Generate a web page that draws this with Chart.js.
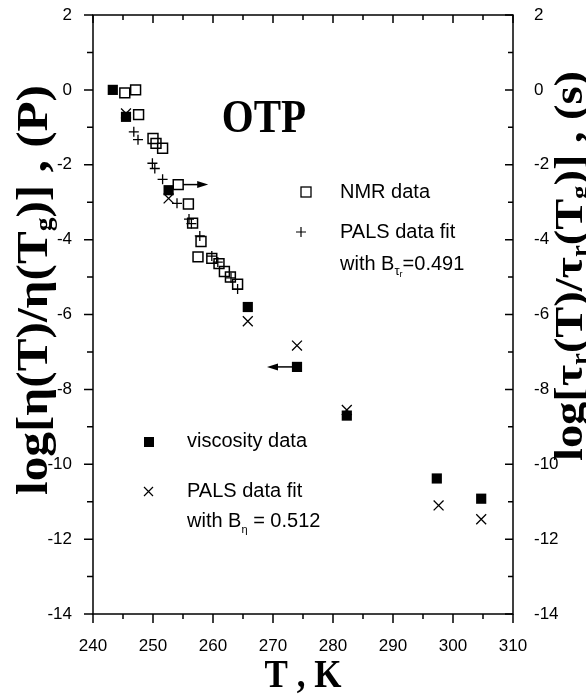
<!DOCTYPE html>
<html>
<head>
<meta charset="utf-8">
<script src="https://cdn.jsdelivr.net/npm/chart.js@4"></script>
<style>
  html, body { margin: 0; padding: 0; background: #fff; }
  #wrap { width: 586px; height: 694px; position: relative; }
</style>
</head>
<body>
<div id="wrap"><canvas id="c" width="586" height="694"></canvas></div>
<script>
// ---- data (T in K, log values) ----
const viscosityT   = [243.3, 245.5, 252.6, 265.8, 274.0, 282.3, 297.3, 304.7];
const viscosityLog = [0.0, -0.72, -2.68, -5.8, -7.4, -8.7, -10.38, -10.92];

const palsEtaT   = [245.5, 252.6, 265.8, 274.0, 282.3, 297.6, 304.7];
const palsEtaLog = [-0.63, -2.9, -6.18, -6.83, -8.55, -11.1, -11.47];

const nmrT   = [245.3, 247.1, 247.6, 250.0, 250.5, 251.6, 254.2, 255.9, 256.6, 258.0, 257.5, 259.8, 261.0, 261.9, 262.9, 264.1];
const nmrLog = [-0.08, 0.0, -0.66, -1.3, -1.43, -1.56, -2.53, -3.05, -3.56, -4.05, -4.46, -4.5, -4.64, -4.85, -5.0, -5.19];

const palsTauT   = [246.8, 247.5, 249.9, 250.3, 251.6, 254.0, 256.0, 256.4, 257.8, 259.8, 260.8, 263.0, 264.1];
const palsTauLog = [-1.12, -1.33, -1.96, -2.1, -2.39, -3.03, -3.45, -3.57, -3.9, -4.44, -4.6, -5.02, -5.32];

// arrows: [fromT, toT, logValue]
const arrowRight = [255.0, 259.2, -2.53];
const arrowLeft  = [273.2, 269.0, -7.4];

const xTickLabels = [240, 250, 260, 270, 280, 290, 300, 310];
const yTickLabels = [2, 0, -2, -4, -6, -8, -10, -12, -14];

function pts(xs, ys) { return xs.map((x, i) => ({ x: x, y: ys[i] })); }

const SANS = '"Liberation Sans", Arial, sans-serif';
const SERIF = '"Liberation Serif", "Times New Roman", serif';

function measureRich(ctx, parts) {
  let total = 0;
  parts.forEach(p => { ctx.font = p.font; total += ctx.measureText(p.t).width; });
  return total;
}
function drawRich(ctx, parts, x, y, align) {
  const total = measureRich(ctx, parts);
  let cx = align === 'center' ? x - total / 2 : x;
  parts.forEach(p => {
    ctx.font = p.font;
    ctx.fillText(p.t, cx, y + (p.dy || 0));
    cx += ctx.measureText(p.t).width;
  });
  return total;
}
function drawVerticalTitle(ctx, parts, cx, cy, targetLen) {
  ctx.save();
  ctx.translate(cx, cy);
  ctx.rotate(-Math.PI / 2);
  const w = measureRich(ctx, parts);
  ctx.scale(targetLen / w, 1);
  drawRich(ctx, parts, 0, 0, 'center');
  ctx.restore();
}
function drawTall(ctx, text, font, cx, baseY, sy) {
  ctx.save();
  ctx.translate(cx, baseY);
  ctx.scale(1, sy);
  ctx.font = font;
  const w = ctx.measureText(text).width;
  ctx.fillText(text, -w / 2, 0);
  ctx.restore();
}

const decor = {
  id: 'decor',
  afterDraw(chart) {
    const ctx = chart.ctx;
    const a = chart.chartArea;
    const xs = chart.scales.x, ys = chart.scales.y;
    ctx.save();
    ctx.strokeStyle = '#000';
    ctx.fillStyle = '#000';
    ctx.lineWidth = 1.5;
    // frame
    ctx.strokeRect(a.left, a.top, a.right - a.left, a.bottom - a.top);
    // x ticks
    for (let t = 240; t <= 310; t += 5) {
      const px = xs.getPixelForValue(t);
      const major = (t % 10 === 0);
      ctx.beginPath();
      ctx.moveTo(px, a.bottom); ctx.lineTo(px, a.bottom + (major ? 9 : 5));
      ctx.moveTo(px, a.top); ctx.lineTo(px, a.top + (major ? 8 : 5));
      ctx.stroke();
    }
    // y ticks
    for (let v = -14; v <= 2; v += 1) {
      const py = ys.getPixelForValue(v);
      const major = (v % 2 === 0);
      ctx.beginPath();
      ctx.moveTo(a.left, py); ctx.lineTo(a.left - (major ? 9 : 6), py);
      ctx.moveTo(a.right, py); ctx.lineTo(a.right - (major ? 8 : 5), py);
      ctx.stroke();
    }
    // arrows
    function arrow(spec) {
      const x0 = xs.getPixelForValue(spec[0]);
      const x1 = xs.getPixelForValue(spec[1]);
      const py = ys.getPixelForValue(spec[2]);
      const dir = Math.sign(x1 - x0);
      ctx.lineWidth = 1.5;
      ctx.beginPath(); ctx.moveTo(x0, py); ctx.lineTo(x1 - dir * 8, py); ctx.stroke();
      ctx.beginPath();
      ctx.moveTo(x1, py);
      ctx.lineTo(x1 - dir * 11, py - 3.5);
      ctx.lineTo(x1 - dir * 11, py + 3.5);
      ctx.closePath(); ctx.fill();
    }
    arrow(arrowRight);
    arrow(arrowLeft);

    // OTP label
    ctx.textBaseline = 'alphabetic';
    ctx.textAlign = 'left';
    drawTall(ctx, 'OTP', 'bold 41px ' + SERIF, 264, 132, 1.12);

    // legends
    const lf = '20px ' + SANS;
    ctx.textBaseline = 'middle';
    // NMR
    ctx.lineWidth = 1.3;
    ctx.strokeRect(301, 187, 10, 10);
    ctx.font = lf; ctx.fillText('NMR data', 340, 192);
    // PALS tau
    ctx.lineWidth = 1.2;
    ctx.beginPath(); ctx.moveTo(296, 232); ctx.lineTo(306, 232); ctx.moveTo(301, 227); ctx.lineTo(301, 237); ctx.stroke();
    ctx.fillText('PALS data fit', 340, 232);
    drawRich(ctx, [
      { t: 'with B', font: lf },
      { t: 'τ', font: '13px ' + SANS, dy: 7 },
      { t: 'r', font: '9px ' + SANS, dy: 11 },
      { t: '=0.491', font: lf }
    ], 340, 264, 'left');
    // viscosity
    ctx.fillRect(144, 437, 10, 10);
    ctx.fillText('viscosity data', 187, 441);
    // PALS eta
    ctx.beginPath(); ctx.moveTo(144, 487); ctx.lineTo(153, 496); ctx.moveTo(153, 487); ctx.lineTo(144, 496); ctx.stroke();
    ctx.fillText('PALS data fit', 187, 491);
    drawRich(ctx, [
      { t: 'with B', font: lf },
      { t: 'η', font: '11px ' + SANS, dy: 9 },
      { t: ' = 0.512', font: lf }
    ], 187, 521, 'left');

    // axis titles
    ctx.textBaseline = 'alphabetic';
    // x title
    drawTall(ctx, 'T , K', 'bold 35px ' + SERIF, 303, 687, 1.12);
    // left title
    const tfL = 'bold 45px ' + SERIF, sfL = 'bold 25px ' + SERIF;
    drawVerticalTitle(ctx, [
      { t: 'log[η(T)/η(T', font: tfL },
      { t: 'g', font: sfL, dy: 5 },
      { t: ')] , (P)', font: tfL }
    ], 47, 290, 410);
    // right title
    const tfR = 'bold 40px ' + SERIF, sfR = 'bold 23px ' + SERIF;
    drawVerticalTitle(ctx, [
      { t: 'log[τ', font: tfR },
      { t: 'r', font: sfR, dy: 5 },
      { t: '(T)/τ', font: tfR },
      { t: 'r', font: sfR, dy: 5 },
      { t: '(T', font: tfR },
      { t: 'g', font: sfR, dy: 5 },
      { t: ')] , (s)', font: tfR }
    ], 582, 266, 390);
    ctx.restore();
  }
};

function fixPad(s) { s.paddingTop = 0; s.paddingBottom = 0; s.paddingLeft = 0; s.paddingRight = 0; }

new Chart(document.getElementById('c'), {
  type: 'scatter',
  data: {
    datasets: [
      { label: 'viscosity data', data: pts(viscosityT, viscosityLog), pointStyle: 'rect', pointRadius: 7.2,
        backgroundColor: '#000', borderColor: '#000', borderWidth: 0, yAxisID: 'y' },
      { label: 'PALS data fit (eta)', data: pts(palsEtaT, palsEtaLog), pointStyle: 'crossRot', pointRadius: 7,
        backgroundColor: '#000', borderColor: '#000', borderWidth: 1.3, yAxisID: 'y' },
      { label: 'NMR data', data: pts(nmrT, nmrLog), pointStyle: 'rect', pointRadius: 7,
        backgroundColor: 'rgba(255,255,255,0)', borderColor: '#000', borderWidth: 1.5, yAxisID: 'y2' },
      { label: 'PALS data fit (tau)', data: pts(palsTauT, palsTauLog), pointStyle: 'cross', pointRadius: 5,
        backgroundColor: '#000', borderColor: '#000', borderWidth: 1.3, yAxisID: 'y2' }
    ]
  },
  options: {
    responsive: false,
    animation: false,
    events: [],
    layout: { padding: { top: 15, left: 0, right: 0, bottom: 0 } },
    plugins: { legend: { display: false }, tooltip: { enabled: false } },
    scales: {
      x: {
        type: 'linear', position: 'bottom', min: 240, max: 310,
        grid: { display: false }, border: { display: false },
        afterBuildTicks: s => { s.ticks = xTickLabels.map(v => ({ value: v })); },
        ticks: { color: '#000', font: { family: SANS, size: 17 }, padding: 14, maxRotation: 0 },
        afterFit: s => { s.height = 80; fixPad(s); }
      },
      y: {
        type: 'linear', position: 'left', min: -14, max: 2,
        grid: { display: false }, border: { display: false },
        afterBuildTicks: s => { s.ticks = yTickLabels.map(v => ({ value: v })); },
        ticks: { color: '#000', font: { family: SANS, size: 17 }, padding: 13 },
        afterFit: s => { s.width = 93; fixPad(s); }
      },
      y2: {
        type: 'linear', position: 'right', min: -14, max: 2,
        grid: { display: false }, border: { display: false },
        afterBuildTicks: s => { s.ticks = yTickLabels.map(v => ({ value: v })); },
        ticks: { color: '#000', font: { family: SANS, size: 17 }, padding: 13 },
        afterFit: s => { s.width = 73; fixPad(s); }
      }
    }
  },
  plugins: [decor]
});
</script>
</body>
</html>
